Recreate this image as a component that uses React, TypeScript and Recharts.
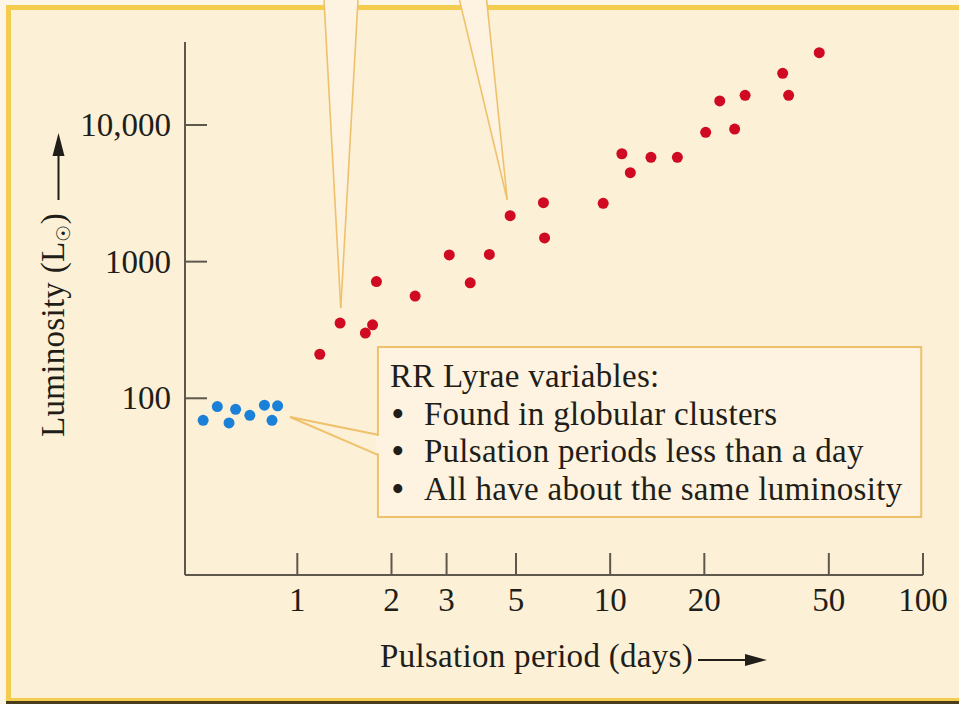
import React from 'react';
import { ScatterChart, Scatter, XAxis, YAxis, ReferenceArea, ReferenceLine } from 'recharts';

// axis ticks
const xTicks = [1, 2, 3, 5, 10, 20, 50, 100];
const xTickLabels = ['1', '2', '3', '5', '10', '20', '50', '100'];
const yTicks = [100, 1000, 10000];
const yTickLabels = ['100', '1000', '10,000'];

// RR Lyrae variables: period (days), luminosity (L_sun)
const rrPeriod = [0.5, 0.555, 0.605, 0.635, 0.705, 0.785, 0.83, 0.865];
const rrLum = [69, 87, 66, 83, 75, 89, 69, 88];

// Cepheid variables
const cephPeriod = [
  1.18, 1.37, 1.65, 1.74, 1.79, 2.38, 3.06, 3.57, 4.11, 4.79, 6.12, 6.17,
  9.5, 10.9, 11.6, 13.5, 16.4, 20.2, 22.4, 25, 27, 35.6, 37.2, 46.6,
];
const cephLum = [
  210, 355, 300, 345, 715, 560, 1120, 700, 1130, 2170, 2700, 1490,
  2670, 6160, 4480, 5800, 5800, 8840, 15000, 9340, 16500, 23900, 16500, 33800,
];

// callout text
const rrNoteTitle = 'RR Lyrae variables:';
const rrNoteBullets = [
  'Found in globular clusters',
  'Pulsation periods less than a day',
  'All have about the same luminosity',
];

// callout box and its pointer, in data units
const rrBoxPeriod = [1.81, 98.7];
const rrBoxLum = [13.5, 237];
const rrPointerTip = { x: 0.948, y: 73 };
const rrPointerBaseLum = [54, 38.5];

// pointers of the callouts above the figure
const pointerTipPeriod = [1.377, 4.69];
const pointerTipLum = [458, 2825];
const pointerTopLeft = [1.217, 3.3];
const pointerTopRight = [1.563, 4.03];
const pointerTopLum = 82000;

const rrData = rrPeriod.map((x, i) => ({ x, y: rrLum[i] }));
const cephData = cephPeriod.map((x, i) => ({ x, y: cephLum[i] }));

const FONT = '"Liberation Serif", "DejaVu Serif", serif';
const INK = '#211d18';
const AXIS = '#5e574c';
const BG = '#fcf0d6';
const BOX_FILL = '#fdf3e0';
const CALLOUT = '#efc16c';
const RED = '#cf0a22';
const BLUE = '#1b80d8';

const XTick = (props: any) => {
  const { x, y, payload } = props;
  const label = xTickLabels[xTicks.indexOf(payload.value)];
  return (
    <g>
      <line x1={x} y1={y} x2={x} y2={y - 22} stroke={AXIS} strokeWidth={2} />
      <text x={x} y={y + 36} textAnchor="middle" fontFamily={FONT} fontSize={33} fill={INK}>
        {label}
      </text>
    </g>
  );
};

const YTick = (props: any) => {
  const { x, y, payload } = props;
  const label = yTickLabels[yTicks.indexOf(payload.value)];
  return (
    <g>
      <line x1={x} y1={y} x2={x + 22} y2={y} stroke={AXIS} strokeWidth={2} />
      <text x={x - 14} y={y + 11} textAnchor="end" fontFamily={FONT} fontSize={33} fill={INK}>
        {label}
      </text>
    </g>
  );
};

const XTitle = (props: any) => {
  const vb = props.viewBox || { x: 185, y: 575 };
  const tx = vb.x + 195;
  const ty = vb.y + 92;
  const ay = vb.y + 85;
  return (
    <g>
      <text x={tx} y={ty} fontFamily={FONT} fontSize={33} letterSpacing={0.3} fill={INK}>
        Pulsation period (days)
      </text>
      <line x1={vb.x + 513} y1={ay} x2={vb.x + 566} y2={ay} stroke={INK} strokeWidth={2} />
      <polygon
        points={`${vb.x + 582},${ay} ${vb.x + 560},${ay - 6} ${vb.x + 560},${ay + 6}`}
        fill={INK}
      />
    </g>
  );
};

const YTitle = () => {
  const bx = 64;
  const by = 437;
  return (
    <g>
      <text
        x={bx}
        y={by}
        transform={`rotate(-90, ${bx}, ${by})`}
        fontFamily={FONT}
        fontSize={33}
        letterSpacing={0.3}
        fill={INK}
      >
        Luminosity (L
        <tspan fontSize={19} dy={6} fontFamily='"DejaVu Sans", sans-serif'>☉</tspan>
        <tspan dy={-6}>)</tspan>
      </text>
      <line x1={58.5} y1={200} x2={58.5} y2={152} stroke={INK} strokeWidth={2} />
      <polygon points="58.5,133 52.5,156 64.5,156" fill={INK} />
    </g>
  );
};

const BoxText = (props: any) => {
  const vb = props.viewBox || { x: 378, y: 347 };
  const left = vb.x + 12;
  const base = vb.y + 40;
  const step = 37.5;
  return (
    <g fontFamily={FONT} fontSize={33} letterSpacing={0.3} fill={INK}>
      <text x={left} y={base}>{rrNoteTitle}</text>
      {rrNoteBullets.map((t, i) => (
        <text key={t} x={left + 2} y={base + step * (i + 1)}>
          <tspan fontWeight="bold">•</tspan>
          <tspan x={left + 34}>{t}</tspan>
        </text>
      ))}
    </g>
  );
};

const makeWedge = (i: number) => (props: any) => {
  const { x, y, width, height } = props;
  if (x == null || y == null) return null;
  const lo = Math.min(pointerTopLeft[i], pointerTipPeriod[i]);
  const hi = Math.max(pointerTopRight[i], pointerTipPeriod[i]);
  const f = (v: number) => x + (width * (Math.log(v) - Math.log(lo))) / (Math.log(hi) - Math.log(lo));
  const ax = f(pointerTopLeft[i]);
  const bx = f(pointerTopRight[i]);
  const tx = f(pointerTipPeriod[i]);
  const ty = y + height;
  return (
    <g>
      <polygon points={`${ax},${y} ${bx},${y} ${tx},${ty}`} fill={BOX_FILL} />
      <line x1={ax} y1={y} x2={tx} y2={ty} stroke={CALLOUT} strokeWidth={1.6} />
      <line x1={bx} y1={y} x2={tx} y2={ty} stroke={CALLOUT} strokeWidth={1.6} />
    </g>
  );
};

const dot = (color: string) => (props: any) => (
  <circle cx={props.cx} cy={props.cy} r={5.5} fill={color} />
);

export default function App() {
  return (
    <div style={{ position: 'relative', width: 959, height: 704, background: '#fdf6e6', overflow: 'hidden' }}>
      <style>{'body{margin:0}'}</style>
      <div
        style={{
          position: 'absolute',
          left: 6,
          top: 5,
          right: -10,
          bottom: 3,
          borderLeft: '5px solid #f5cd4e',
          borderTop: '5px solid #f5cd4e',
          borderBottom: '3px solid #f5cd4e',
          background: BG,
        }}
      />
      <div style={{ position: 'absolute', left: 6, right: 0, bottom: 0, height: 3, background: '#4a3d1c' }} />
      <div style={{ position: 'absolute', left: 0, top: 0 }}>
        <ScatterChart width={959} height={704} margin={{ top: 42, right: 36, bottom: 69, left: 85 }}>
          <XAxis
            dataKey="x"
            type="number"
            scale="log"
            domain={[0.4375, 100]}
            allowDataOverflow
            ticks={xTicks}
            interval={0}
            tick={<XTick />}
            tickLine={false}
            tickSize={0}
            tickMargin={0}
            height={60}
            axisLine={{ stroke: AXIS, strokeWidth: 2 }}
            label={<XTitle />}
          />
          <YAxis
            dataKey="y"
            type="number"
            scale="log"
            domain={[5.09, 40500]}
            allowDataOverflow
            ticks={yTicks}
            interval={0}
            tick={<YTick />}
            tickLine={false}
            tickSize={0}
            tickMargin={0}
            width={100}
            axisLine={{ stroke: AXIS, strokeWidth: 2 }}
            label={<YTitle />}
          />
          {pointerTipPeriod.map((tip, i) => (
            <ReferenceArea
              key={`wedge-${i}`}
              x1={Math.min(pointerTopLeft[i], tip)}
              x2={Math.max(pointerTopRight[i], tip)}
              y1={pointerTipLum[i]}
              y2={pointerTopLum}
              ifOverflow="visible"
              shape={makeWedge(i)}
            />
          ))}
          <ReferenceArea
            x1={rrBoxPeriod[0]}
            x2={rrBoxPeriod[1]}
            y1={rrBoxLum[0]}
            y2={rrBoxLum[1]}
            fill={BOX_FILL}
            fillOpacity={1}
            stroke={CALLOUT}
            strokeWidth={2}
            label={<BoxText />}
          />
          <ReferenceLine
            segment={[
              { x: rrBoxPeriod[0], y: rrPointerBaseLum[0] - 1 },
              { x: rrBoxPeriod[0], y: rrPointerBaseLum[1] + 1 },
            ]}
            stroke={BOX_FILL}
            strokeWidth={4}
          />
          {rrPointerBaseLum.map((lum, i) => (
            <ReferenceLine
              key={`ptr-${i}`}
              segment={[rrPointerTip, { x: rrBoxPeriod[0], y: lum }]}
              stroke={CALLOUT}
              strokeWidth={2}
            />
          ))}
          <Scatter data={rrData} shape={dot(BLUE)} isAnimationActive={false} />
          <Scatter data={cephData} shape={dot(RED)} isAnimationActive={false} />
        </ScatterChart>
      </div>
    </div>
  );
}
